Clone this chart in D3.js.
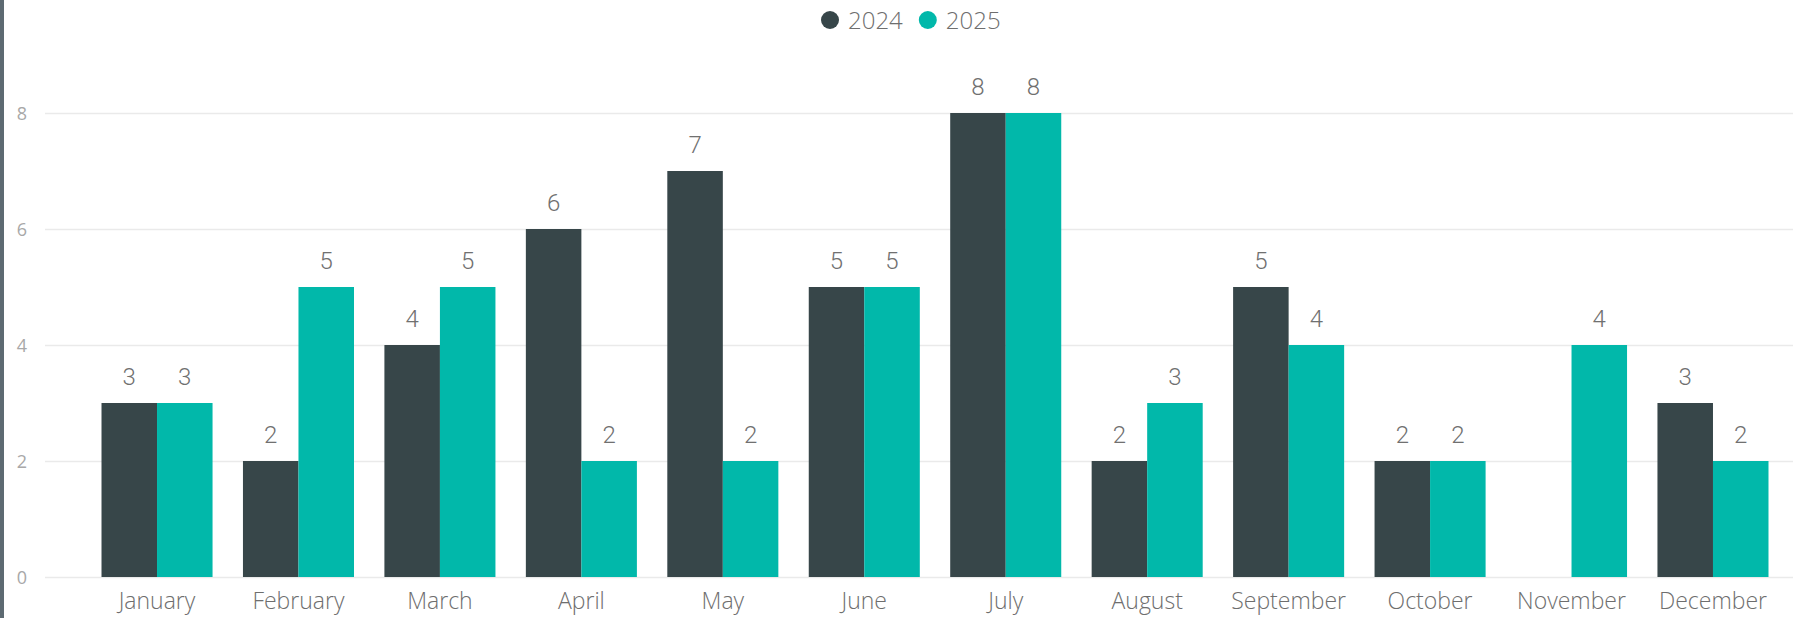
<!DOCTYPE html>
<html>
<head>
<meta charset="utf-8">
<script src="https://cdn.jsdelivr.net/npm/d3@7"></script>
<style>
  html, body { margin: 0; padding: 0; background: #fff; }
  svg { display: block; }
</style>
</head>
<body>
<svg id="chart" width="1793" height="618"></svg>
<script>
const months = ["January","February","March","April","May","June","July","August","September","October","November","December"];
const seriesNames = ["2024", "2025"];
const values2024 = [3, 2, 4, 6, 7, 5, 8, 2, 5, 2, null, 3];
const values2025 = [3, 5, 5, 2, 2, 5, 8, 3, 4, 2, 4, 2];
const yTicks = [0, 2, 4, 6, 8];
const colors = ["#374649", "#01B8AA"];

const svg = d3.select("#chart");
const W = 1793, H = 618;

// left border
svg.append("rect").attr("x", 0).attr("y", 0).attr("width", 4).attr("height", H).attr("fill", "#5d6a72");

const x = d3.scaleBand().domain(months).range([86.3, 1783.7]).paddingInner(0.215).paddingOuter(0.1075);
const xs = d3.scaleBand().domain(seriesNames).range([0, x.bandwidth()]).padding(0);
const y = d3.scaleLinear().domain([0, 8]).range([577, 113]);

// gridlines
const grid = svg.append("g");
grid.selectAll("line").data(yTicks).join("line")
  .attr("x1", 45).attr("x2", W)
  .attr("y1", d => Math.round(y(d)) + 0.5).attr("y2", d => Math.round(y(d)) + 0.5)
  .attr("stroke", "#eaeaea").attr("stroke-width", 1.5);

// y axis labels
const yAxis = d3.axisLeft(y).tickValues(yTicks).tickSize(0).tickPadding(0);
const yg = svg.append("g").attr("transform", "translate(22,0)").call(yAxis);
yg.select(".domain").remove();
yg.selectAll("text").attr("font-family", "'Open Sans', 'Noto Sans', sans-serif")
  .attr("font-size", 18).attr("fill", "#a8a8a8").attr("text-anchor", "middle").attr("dy", "0.35em");

// bars
const data = months.map((m, i) => ({ month: m, vals: [
  { s: seriesNames[0], v: values2024[i] },
  { s: seriesNames[1], v: values2025[i] }
]}));

const groups = svg.append("g").selectAll("g").data(data).join("g")
  .attr("transform", d => `translate(${x(d.month)},0)`);

groups.selectAll("rect").data(d => d.vals.filter(e => e.v != null)).join("rect")
  .attr("x", d => xs(d.s))
  .attr("width", xs.bandwidth())
  .attr("y", d => y(d.v))
  .attr("height", d => y(0) - y(d.v))
  .attr("fill", d => colors[seriesNames.indexOf(d.s)]);

groups.selectAll("text").data(d => d.vals.filter(e => e.v != null)).join("text")
  .attr("x", d => xs(d.s) + xs.bandwidth() / 2)
  .attr("y", d => y(d.v) - 18)
  .attr("text-anchor", "middle")
  .attr("font-family", "Roboto, 'DejaVu Sans', sans-serif")
  .attr("font-weight", 300)
  .attr("font-size", 24)
  .attr("fill", "#707070")
  .text(d => d.v);

// x axis labels
const xAxis = d3.axisBottom(x).tickSize(0).tickPadding(0);
const xg = svg.append("g").attr("transform", "translate(0,592)").call(xAxis);
xg.select(".domain").remove();
xg.selectAll("text").attr("font-family", "'Open Sans', 'Noto Sans', sans-serif")
  .attr("font-size", 23).attr("font-weight", 300).attr("fill", "#6e6e6e").attr("dy", "0.75em");

// legend
const legend = svg.append("g");
let lx = 821;
seriesNames.forEach((s, i) => {
  legend.append("circle").attr("cx", lx + 9).attr("cy", 20).attr("r", 9).attr("fill", colors[i]);
  const t = legend.append("text").attr("x", lx + 27).attr("y", 28.5)
    .attr("font-family", "'Open Sans', 'Noto Sans', sans-serif")
    .attr("font-size", 24).attr("font-weight", 300).attr("fill", "#6e6e6e").text(s);
  const w = t.node().getComputedTextLength();
  lx = lx + 27 + w + 16;
});
</script>
</body>
</html>
